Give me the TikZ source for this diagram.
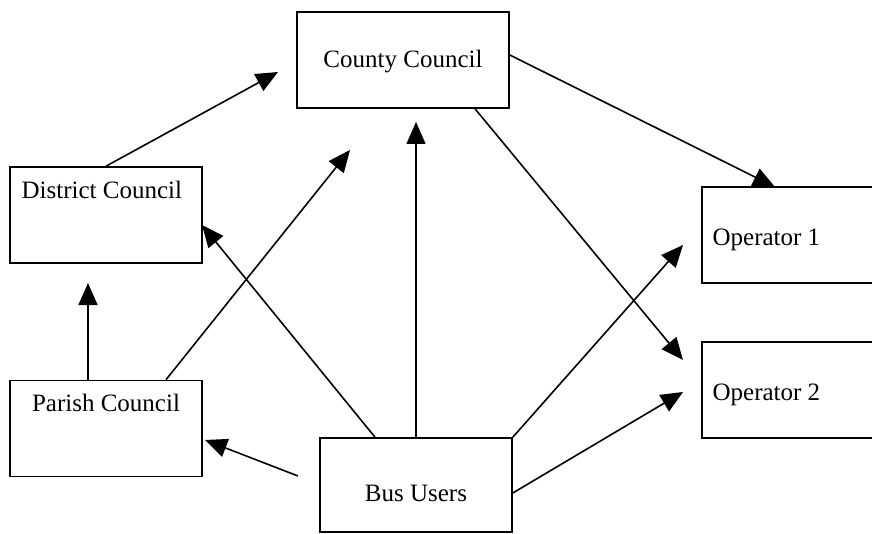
\documentclass[tikz,border=0pt]{standalone}
\usepackage{fontspec}
\setmainfont{Liberation Serif}
\usetikzlibrary{arrows.meta}

\begin{document}
\begin{tikzpicture}[%%
  x=0.5pt,y=-0.5pt,%%
  boxStyle/.style={draw,line width=0.8pt,minimum width=96pt,minimum height=48pt,inner sep=0pt},%%
  arrowStyle/.style={-{Triangle[length=11pt,width=9.5pt]},line width=0.8pt},%%
  labelStyle/.style={inner sep=0pt,font=\fontsize{12.5}{15}\selectfont}%%
]
%%
%% Page size, in pixels of the original.
\useasboundingbox (0,0) rectangle (872,534);
\clip (0,0) rectangle (872,534);
%%
%% The boxes.
\node[boxStyle,minimum width=106pt] (county) at (403,60) {};
\node[boxStyle] (district) at (106,215) {};
\node[boxStyle] (parish) at (106,428.5) {};
\node[boxStyle,minimum height=47pt] (bus) at (416,485) {};
\node[boxStyle,minimum width=99pt] (opOne) at (801,235) {};
\node[boxStyle,minimum width=99pt] (opTwo) at (801,390) {};
%%
%% The texts of the boxes.
\node[labelStyle] (countyText) at ([yshift=-1pt]county.center) {County Council};
\node[labelStyle,anchor=west] (districtText) at ([xshift=6pt,yshift=12.5pt]district.west) {District Council};
\node[labelStyle] (parishText) at ([yshift=13pt]parish.center) {Parish Council};
\node[labelStyle] (busText) at ([yshift=-4pt]bus.center) {Bus Users};
\node[labelStyle,anchor=west] (opOneText) at ([xshift=5.5pt,yshift=-2.5pt]opOne.west) {Operator 1};
\node[labelStyle,anchor=west] (opTwoText) at ([xshift=5.5pt,yshift=-2.5pt]opTwo.west) {Operator 2};
%%
%% Where the arrows stop.
\coordinate (tipDistrictCounty) at (278,72);
\coordinate (tipParishDistrict) at (88,283);
\coordinate (tipParishCounty) at (350,150);
\coordinate (tipBusCounty) at (416,122);
\coordinate (tipBusDistrict) at (202,225);
\coordinate (tipBusParish) at (205,440);
\coordinate (tipCountyOpOne) at (775,187);
\coordinate (tipCountyOpTwo) at (683,360);
\coordinate (tipBusOpOne) at (683,245);
\coordinate (tipBusOpTwo) at (683,392);
\coordinate (busParishStart) at (298,476);
%%
%% From the District Council.
\draw[arrowStyle] (district.north) -- (tipDistrictCounty);
%% From the Parish Council.
\draw[arrowStyle] ([xshift=-9pt]parish.north) -- (tipParishDistrict);
\draw[arrowStyle] ([xshift=30pt]parish.north) -- (tipParishCounty);
%% From the Bus Users.
\draw[arrowStyle] (bus.north) -- (tipBusCounty);
\draw[arrowStyle] ([xshift=-20.5pt]bus.north) -- (tipBusDistrict);
\draw[arrowStyle] (busParishStart) -- (tipBusParish);
\draw[arrowStyle] (bus.north east) -- (tipBusOpOne);
\draw[arrowStyle] ([yshift=-4pt]bus.east) -- (tipBusOpTwo);
%% From the County Council.
\draw[arrowStyle] ([yshift=2.5pt]county.east) -- (tipCountyOpOne);
\draw[arrowStyle] ([xshift=36pt]county.south) -- (tipCountyOpTwo);
\end{tikzpicture}
\end{document}
